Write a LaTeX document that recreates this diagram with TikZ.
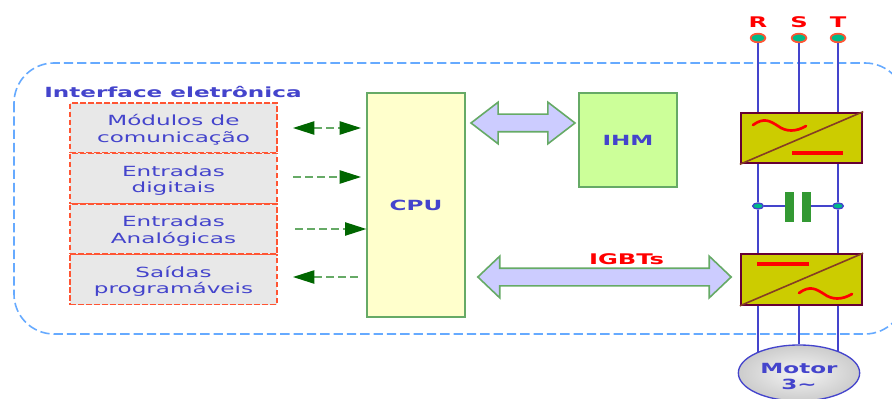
\documentclass[tikz,border=0pt]{standalone}
\usepackage{fontspec}
\usetikzlibrary{arrows.meta,shapes.geometric,shapes.arrows}
\newfontfamily\widefont[FakeStretch=1.65]{DejaVu Sans}
\newcommand{\lowerline}{\rule{0pt}{11pt}}
\definecolor{txtblue}{HTML}{4444CC}
\definecolor{linegreen}{HTML}{66AA66}
\definecolor{tipgreen}{HTML}{006600}
\definecolor{panelred}{HTML}{FF5533}
\definecolor{panelgray}{HTML}{E8E8E8}
\definecolor{frameblue}{HTML}{66AAFF}
\definecolor{busblue}{HTML}{CCCCFF}
\definecolor{cpuyellow}{HTML}{FFFFCC}
\definecolor{ihmgreen}{HTML}{CCFF99}
\definecolor{convyellow}{HTML}{CCCC00}
\definecolor{convborder}{HTML}{660033}
\definecolor{dotteal}{HTML}{00BB88}
\definecolor{capgreen}{HTML}{339933}
\tikzset{
    panel/.style={draw=panelred, fill=panelgray, line width=1.4pt, dash pattern=on 4pt off 2pt, minimum width=155pt, minimum height=37.5pt, inner sep=0pt, align=center, text=txtblue, font=\widefont\fontsize{10.5}{12.4}\selectfont},
    unit/.style={draw=linegreen, line width=1.5pt, minimum width=73pt, inner sep=0pt, text=txtblue, font=\widefont\bfseries\fontsize{10.5}{12}\selectfont},
    title/.style={inner sep=0pt, text=txtblue, font=\widefont\bfseries\fontsize{10.5}{12}\selectfont},
    redtitle/.style={inner sep=0pt, text=red, font=\widefont\bfseries\fontsize{11}{12}\selectfont},
    bus/.style={draw=linegreen, fill=busblue, line width=1.2pt, double arrow, inner sep=0pt, text height=12pt, text depth=0pt, text width=0pt, double arrow head extend=9pt, double arrow head indent=0pt},
    link/.style={draw=linegreen, line width=1pt, dash pattern=on 6pt off 3pt, shorten >=4pt},
    tipleft/.style={{Triangle[length=16pt,width=10pt,fill=tipgreen,color=tipgreen]}-},
    tipright/.style={-{Triangle[length=16pt,width=10pt,fill=tipgreen,color=tipgreen]}},
    tipboth/.style={{Triangle[length=16pt,width=10pt,fill=tipgreen,color=tipgreen]}-{Triangle[length=16pt,width=10pt,fill=tipgreen,color=tipgreen]}},
    conv/.style={draw=convborder, fill=convyellow, line width=1.5pt, minimum width=91pt, minimum height=38pt, inner sep=0pt},
    wire/.style={draw=txtblue, line width=1.7pt},
    term/.style={draw=panelred, fill=dotteal, ellipse, line width=1.3pt, minimum width=11pt, minimum height=6.5pt, inner sep=0pt},
    joint/.style={draw=txtblue, fill=dotteal, ellipse, line width=1pt, minimum width=8pt, minimum height=4.5pt, inner sep=0pt},
    plate/.style={fill=capgreen, minimum width=7pt, minimum height=22.5pt, inner sep=0pt},
    wave/.style={draw=red, line width=2pt, line cap=round},
    bar/.style={draw=red, line width=2.8pt},
}
\begin{document}
\begin{tikzpicture}[x=0.75pt, y=-0.75pt]
    \useasboundingbox (0,0) rectangle (892,399);
    \clip (0,0) rectangle (892,399);
    \draw[frameblue, line width=1.2pt, dash pattern=on 7pt off 3pt, rounded corners=30pt] (14,63) rectangle (905,334);
    \node[title, anchor=west] (iface) at (44,92) {Interface eletrônica};

    \node[panel] (mod) at (173.5,128) {\lowerline Módulos de\\comunicação};
    \node[panel] (dig) at (173.5,178.5) {\lowerline Entradas\\digitais};
    \node[panel] (ana) at (173.5,229) {\lowerline Entradas\\Analógicas};
    \node[panel] (sai) at (173.5,279.5) {\lowerline Saídas\\programáveis};

    \node[unit, fill=cpuyellow, minimum height=168pt] (cpu) at (416,205) {CPU};
    \node[unit, fill=ihmgreen, minimum height=70.5pt] (ihm) at (628,140) {IHM};

    \coordinate (pmod) at (293,128);
    \coordinate (pdig) at (293,177);
    \coordinate (pana) at (295,229);
    \coordinate (psai) at (293,277);
    \draw[link, tipboth] (pmod) -- (cpu.west |- pmod);
    \draw[link, tipright] (pdig) -- (cpu.west |- pdig);
    \draw[link, tipright, shorten >=0pt] (pana) -- (cpu.west |- pana);
    \draw[link, tipleft] (psai) -- (cpu.west |- psai);

    \node[bus, double arrow tip angle=75, minimum height=78pt] (bus1) at (523,123) {};
    \node[bus, double arrow tip angle=87, minimum height=190pt] (bus2) at (604.5,277) {};
    \node[redtitle, anchor=south] (igbt) at (626.5,265) {IGBTs};

    \node[term] (tr) at (758,38) {};
    \node[term] (ts) at (799,38) {};
    \node[term] (tt) at (838,38) {};
    \node[redtitle] (lr) at (758,22) {R};
    \node[redtitle] (ls) at (799,22) {S};
    \node[redtitle] (lt) at (838,22) {T};

    \node[conv] (rect) at (801.5,138) {};
    \node[conv] (inv) at (801.5,279.5) {};
    \node[ellipse, draw=txtblue, line width=1pt, inner color=gray!8, outer color=gray!40, minimum width=91pt, minimum height=42pt, inner sep=0pt, align=center, text=txtblue, font=\widefont\bfseries\fontsize{10.5}{12.4}\selectfont] (motor) at (799,373) {\rule{0pt}{13pt}Motor\\3∼};

    \node[joint] (jl) at (758,206) {};
    \node[joint] (jr) at (838,206) {};
    \node[plate] (cl) at (789.5,207) {};
    \node[plate] (cr) at (806.5,207) {};

    \draw[wire] (tr) -- (tr |- rect.north);
    \draw[wire] (ts) -- (ts |- rect.north);
    \draw[wire] (tt) -- (tt |- rect.north);
    \draw[wire] (tr |- rect.south) -- (jl);
    \draw[wire] (tt |- rect.south) -- (jr);
    \draw[wire] (jl) -- (tr |- inv.north);
    \draw[wire] (jr) -- (tt |- inv.north);
    \draw[txtblue, line width=1pt] (jl) -- (cl.west |- jl);
    \draw[txtblue, line width=1pt] (jr) -- (cr.east |- jr);
    \draw[wire] (tr |- inv.south) -- (tr |- motor.153);
    \draw[wire] (ts |- inv.south) -- (motor.north);
    \draw[wire] (tt |- inv.south) -- (tt |- motor.27);

    \draw[convborder!70!convyellow, line width=1.2pt] (rect.south west) -- (rect.north east);
    \draw[convborder!70!convyellow, line width=1.2pt] (inv.south west) -- (inv.north east);

    \draw[wave] (753,125) .. controls (764,117) and (770,121) .. (778,126) .. controls (786,132) and (796,132) .. (806,126);
    \draw[bar] (792,153) -- (843,153);
    \draw[bar] (757,264) -- (809,264);
    \draw[wave] (799,293) .. controls (810,285) and (816,289) .. (824,294) .. controls (832,300) and (842,300) .. (852,294);
\end{tikzpicture}
\end{document}
